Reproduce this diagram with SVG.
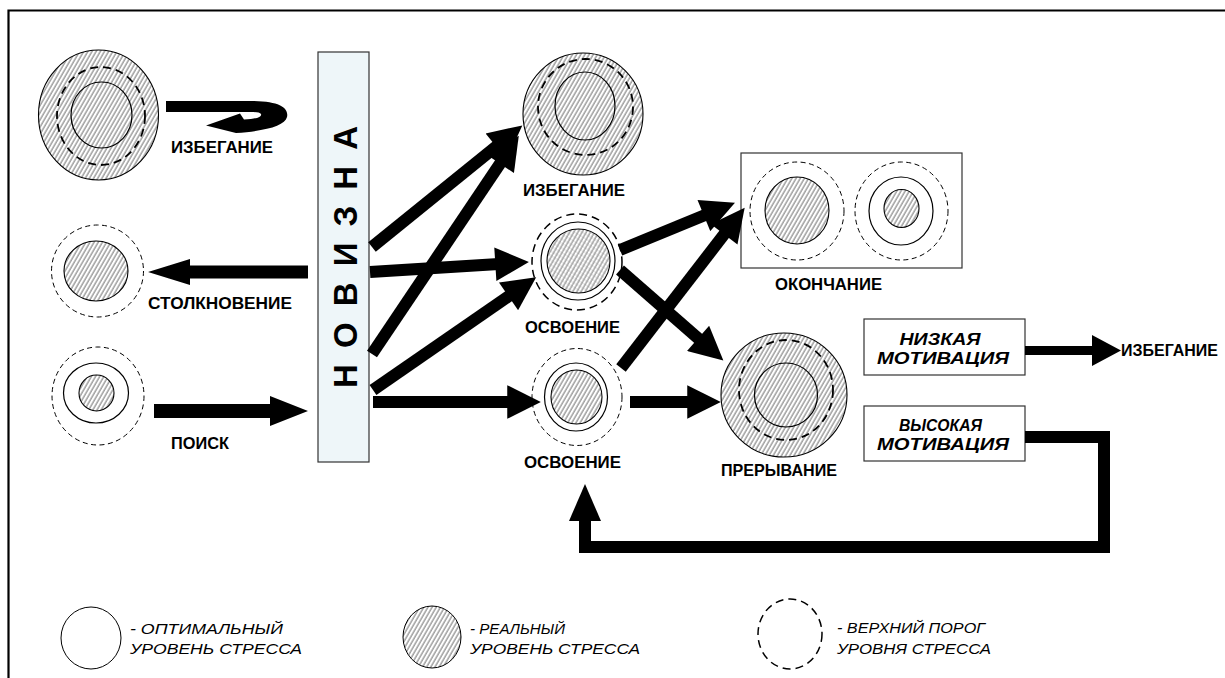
<svg xmlns="http://www.w3.org/2000/svg" width="1225" height="678" viewBox="0 0 1225 678">
<style>
.lbl{font-family:"Liberation Sans",Arial,sans-serif;font-weight:bold;font-size:17px;fill:#000}
.box{font-family:"Liberation Sans",Arial,sans-serif;font-weight:bold;font-style:italic;font-size:16px;fill:#000}
.leg{font-family:"Liberation Sans",Arial,sans-serif;font-style:italic;font-size:15.5px;fill:#000}
.hat{fill:url(#hatch);stroke:#000;stroke-width:1.1}
.hatx{fill:url(#hatchx);stroke:#000;stroke-width:1.1}
.sol{fill:none;stroke:#000;stroke-width:1.2}
.dsh{fill:none;stroke:#000;stroke-width:1;stroke-dasharray:5 3.5}
.dshb{fill:none;stroke:#000;stroke-width:1.8;stroke-dasharray:8 5}
.arr{fill:none;stroke:#000;stroke-width:12;marker-end:url(#ah)}
.frm{fill:#fff;stroke:#333;stroke-width:1.2}
</style>
<defs>
<pattern id="hatch" patternUnits="userSpaceOnUse" width="3.6" height="4" patternTransform="rotate(30)">
<rect width="3.6" height="4" fill="#fff"/>
<line x1="1" y1="0" x2="1" y2="4" stroke="#7c7c7c" stroke-width="1.1"/>
</pattern>
<pattern id="hatchx" patternUnits="userSpaceOnUse" width="3.6" height="4" patternTransform="rotate(30)">
<rect width="3.6" height="4" fill="#fff"/>
<line x1="1" y1="0" x2="1" y2="4" stroke="#7c7c7c" stroke-width="1"/>
<line x1="0" y1="2" x2="3.6" y2="2" stroke="#a5a5a5" stroke-width="0.7" stroke-dasharray="1 1"/>
</pattern>
<marker id="ah" viewBox="0 0 10 10" refX="1" refY="5" markerWidth="3" markerHeight="2.8" orient="auto" markerUnits="strokeWidth">
<path d="M0,0 L10,5 L0,10 z" fill="#000"/>
</marker>
</defs>
<rect width="1225" height="678" fill="#fff"/>
<path d="M8.5,678 L8.5,10.5 L1225,10.5" fill="none" stroke="#000" stroke-width="2.2"/>

<g id="n-avoid-left">
<ellipse class="hat" cx="98.5" cy="115" rx="60" ry="65"/>
<ellipse class="dshb" cx="101" cy="116" rx="44" ry="49"/>
<ellipse class="sol" cx="101.5" cy="115" rx="30.5" ry="33"/>
<text class="lbl" x="171" y="153" textLength="102" lengthAdjust="spacingAndGlyphs">ИЗБЕГАНИЕ</text>
</g>

<g id="n-collision">
<ellipse class="dsh" cx="97.5" cy="271" rx="46" ry="46"/>
<ellipse class="hat" cx="96" cy="271" rx="32" ry="30"/>
<text class="lbl" x="148" y="309" textLength="144" lengthAdjust="spacingAndGlyphs">СТОЛКНОВЕНИЕ</text>
</g>

<g id="n-search">
<ellipse class="dsh" cx="98" cy="396" rx="46" ry="49"/>
<ellipse class="sol" cx="96" cy="393" rx="32.5" ry="30"/>
<ellipse class="hat" cx="96.5" cy="393" rx="17.5" ry="18"/>
<text class="lbl" x="171" y="449" textLength="58" lengthAdjust="spacingAndGlyphs">ПОИСК</text>
</g>

<g id="n-novelty">
<rect x="318" y="52" width="51" height="410" fill="#eef6f9" stroke="#333" stroke-width="1.2"/>
<text transform="translate(357,257) rotate(-90)" text-anchor="middle" font-family="Liberation Sans,Arial,sans-serif" font-weight="bold" font-size="33" textLength="262" lengthAdjust="spacing">Н О В И З Н А</text>
</g>

<g id="n-avoid-mid">
<ellipse class="hat" cx="583" cy="114" rx="60" ry="61"/>
<ellipse class="dshb" cx="585.5" cy="107" rx="47.5" ry="48"/>
<ellipse class="sol" cx="585" cy="106" rx="30" ry="34"/>
<text class="lbl" x="523" y="196" textLength="102" lengthAdjust="spacingAndGlyphs">ИЗБЕГАНИЕ</text>
</g>

<g id="n-master-up">
<ellipse class="dshb" cx="577" cy="262" rx="45" ry="48" style="stroke-width:1.5"/>
<ellipse class="sol" cx="578" cy="261" rx="37" ry="39"/>
<ellipse class="hatx" cx="578.5" cy="261" rx="31.5" ry="32"/>
<text class="lbl" x="525" y="333" textLength="95" lengthAdjust="spacingAndGlyphs">ОСВОЕНИЕ</text>
</g>

<g id="n-master-low">
<ellipse class="dsh" cx="577" cy="397" rx="45" ry="48.5"/>
<ellipse class="sol" cx="576" cy="397" rx="31.5" ry="34"/>
<ellipse class="hat" cx="576.5" cy="397" rx="25.5" ry="27"/>
<text class="lbl" x="524" y="468" textLength="97" lengthAdjust="spacingAndGlyphs">ОСВОЕНИЕ</text>
</g>

<g id="n-end">
<rect class="frm" x="741" y="153" width="221" height="115"/>
<ellipse class="dsh" cx="797" cy="211" rx="47" ry="49"/>
<ellipse class="hat" cx="797" cy="210.5" rx="32" ry="33.5"/>
<ellipse class="dsh" cx="901.5" cy="211" rx="46.5" ry="49"/>
<ellipse class="sol" cx="901" cy="211" rx="32" ry="34"/>
<ellipse class="hat" cx="901.5" cy="208.5" rx="17.5" ry="19"/>
<text class="lbl" x="775" y="290" textLength="107" lengthAdjust="spacingAndGlyphs">ОКОНЧАНИЕ</text>
</g>

<g id="n-break">
<ellipse class="hat" cx="784" cy="395" rx="63" ry="62"/>
<ellipse class="dshb" cx="786" cy="390" rx="47" ry="50"/>
<ellipse class="sol" cx="786" cy="395" rx="31.5" ry="32"/>
<text class="lbl" x="721" y="476" textLength="116" lengthAdjust="spacingAndGlyphs">ПРЕРЫВАНИЕ</text>
</g>

<g id="n-low">
<rect class="frm" x="864" y="319" width="161" height="56"/>
<text class="box" x="940" y="345" text-anchor="middle" textLength="81" lengthAdjust="spacingAndGlyphs">НИЗКАЯ</text>
<text class="box" x="943" y="364" text-anchor="middle" textLength="132" lengthAdjust="spacingAndGlyphs">МОТИВАЦИЯ</text>
</g>

<g id="n-high">
<rect class="frm" x="864" y="406" width="161" height="55"/>
<text class="box" x="940.5" y="431" text-anchor="middle" textLength="83" lengthAdjust="spacingAndGlyphs">ВЫСОКАЯ</text>
<text class="box" x="943" y="450" text-anchor="middle" textLength="132" lengthAdjust="spacingAndGlyphs">МОТИВАЦИЯ</text>
</g>

<g id="n-avoid-right">
<text class="lbl" x="1121" y="356" textLength="97" lengthAdjust="spacingAndGlyphs">ИЗБЕГАНИЕ</text>
</g>

<g id="connectors">
<path d="M166,101 L250,101 C280,101 289,108 287,117 C285,126 265,131 236,133 L206,125.5 L240,113.5 L244,119.5 C256,119 262,117 261,114 C260,112.5 256,112 250,112 L166,112 Z" fill="#000"/>
<polygon points="308,265.5 190,265.5 190,259 148,272 190,285 190,278.5 308,278.5" fill="#000"/>
<polygon points="154,404 270,404 270,396 308,411 270,426 270,418 154,418" fill="#000"/>
<line class="arr" x1="372" y1="247" x2="498.8" y2="144.4"/>
<line class="arr" x1="372" y1="354" x2="501.9" y2="160.9"/>
<line class="arr" x1="370" y1="272" x2="498.7" y2="264"/>
<line class="arr" x1="373" y1="390" x2="511.3" y2="294.4"/>
<line class="arr" x1="373" y1="402" x2="510.6" y2="402"/>
<line class="arr" x1="620" y1="250" x2="707" y2="214.3"/>
<line class="arr" x1="621" y1="368" x2="726.2" y2="231.7"/>
<line class="arr" x1="620" y1="270" x2="700.6" y2="340.6"/>
<line class="arr" x1="630" y1="402" x2="690.6" y2="402"/>
<polygon points="1025,346 1092,346 1092,335 1121,350.5 1092,366 1092,355 1025,355" fill="#000"/>
<polyline points="1025,437 1104,437 1104,547 585,547 585,518" fill="none" stroke="#000" stroke-width="12"/>
<polygon points="585,484 569,521 601,521" fill="#000"/>
</g>

<g id="legend">
<ellipse class="sol" cx="91" cy="638" rx="30" ry="31" style="stroke-width:1"/>
<text class="leg" x="130" y="634" textLength="153" lengthAdjust="spacingAndGlyphs">- ОПТИМАЛЬНЫЙ</text>
<text class="leg" x="130" y="654" textLength="172" lengthAdjust="spacingAndGlyphs">УРОВЕНЬ СТРЕССА</text>
<ellipse class="hat" cx="432" cy="637" rx="29" ry="31" style="stroke-width:1"/>
<text class="leg" x="470" y="634" textLength="95" lengthAdjust="spacingAndGlyphs">- РЕАЛЬНЫЙ</text>
<text class="leg" x="470" y="654" textLength="170" lengthAdjust="spacingAndGlyphs">УРОВЕНЬ СТРЕССА</text>
<ellipse class="dshb" cx="790" cy="634" rx="32" ry="35" style="stroke-width:1.5"/>
<text class="leg" x="837" y="633" textLength="148" lengthAdjust="spacingAndGlyphs">- ВЕРХНИЙ ПОРОГ</text>
<text class="leg" x="837" y="654" textLength="154" lengthAdjust="spacingAndGlyphs">УРОВНЯ СТРЕССА</text>
</g>
</svg>
